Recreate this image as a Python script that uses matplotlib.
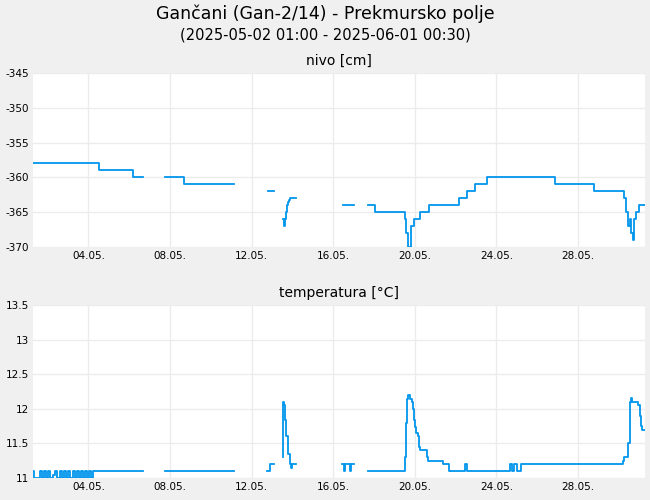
import numpy as np
import matplotlib.pyplot as plt
from matplotlib.ticker import FormatStrFormatter

nan = np.nan

# x = days since left edge of the plot
tick_days = [2.72, 6.72, 10.72, 14.72, 18.72, 22.72, 26.72]
tick_labels = ["04.05.", "08.05.", "12.05.", "16.05.", "20.05.", "24.05.", "28.05."]

nivo_t = [0, 3.20, 3.25, 4.83, 4.88, 5.37, 5.40,
          6.48, 7.37, 7.42, 9.83, 9.86,
          11.51, 11.79, 11.82,
          12.25, 12.30, 12.35, 12.40, 12.45, 12.50, 12.55, 12.58, 12.87, 12.90,
          15.20, 15.70, 15.73,
          16.44, 16.67, 16.75, 18.18, 18.22, 18.27, 18.37, 18.49, 18.55, 18.69, 18.98,
          19.43, 20.90, 21.29, 21.68, 22.26, 25.59, 27.53, 28.89, 29.00, 29.10, 29.20,
          29.25, 29.30, 29.40, 29.45, 29.55, 29.70, 30.0]
nivo_v = [-358, -358, -359, -359, -360, -360, nan,
          -360, -360, -361, -361, nan,
          -362, -362, nan,
          -366, -367, -366, -365, -364, -363.5, -363.2, -363, -363, nan,
          -364, -364, nan,
          -364, -364, -365, -365, -366, -368, -370, -370, -367, -366, -365,
          -364, -363, -362, -361, -360, -361, -362, -362, -363, -365, -367,
          -366, -368, -369, -366, -365, -364, -364]

temp_t = [0, 0.05, 0.35, 0.45, 0.55, 0.65, 0.75, 0.85, 1.0, 1.1, 1.2, 1.3, 1.4,
          1.5, 1.6, 1.7, 1.8, 1.95, 2.05, 2.15, 2.25, 2.35, 2.45, 2.55, 2.65, 2.75,
          2.85, 2.92, 5.37, 5.40,
          6.48, 9.83, 9.86,
          11.47, 11.60, 11.79, 11.82,
          12.25, 12.28, 12.32, 12.36, 12.42, 12.48, 12.52, 12.58, 12.62, 12.67, 12.72, 12.87, 12.90,
          15.17, 15.25, 15.30, 15.55, 15.60, 15.70, 15.73,
          16.44, 18.18, 18.22, 18.28, 18.33, 18.38, 18.45, 18.50, 18.56, 18.62, 18.68,
          18.74, 18.80, 18.86, 18.92, 18.98, 19.30, 19.36, 20.10, 20.39, 20.45,
          20.50, 21.17, 21.30, 21.55, 23.39, 23.50, 23.60, 23.75, 23.92, 28.92, 29.00,
          29.20, 29.25, 29.30, 29.38, 29.69, 29.75, 29.82, 29.88, 30.0]
temp_v = [11.1, 11.0, 11.1, 11.0, 11.1, 11.0, 11.1, 11.0, 11.05, 11.1, 11.0, 11.1, 11.0,
          11.1, 11.0, 11.1, 11.0, 11.1, 11.0, 11.1, 11.0, 11.1, 11.0, 11.1, 11.0, 11.1,
          11.0, 11.1, 11.1, nan,
          11.1, 11.1, nan,
          11.1, 11.2, 11.2, nan,
          11.3, 12.1, 12.05, 11.84, 11.6, 11.45, 11.35, 11.25, 11.2, 11.15, 11.2, 11.2, nan,
          11.2, 11.1, 11.2, 11.1, 11.2, 11.2, nan,
          11.1, 11.1, 11.3, 11.8, 12.14, 12.2, 12.2, 12.14, 12.1, 12.0, 11.84,
          11.74, 11.65, 11.6, 11.45, 11.4, 11.3, 11.25, 11.2, 11.1, nan,
          11.1, 11.2, 11.1, 11.1, 11.2, 11.1, 11.2, 11.1, 11.2, 11.25, 11.3,
          11.5, 12.1, 12.15, 12.1, 12.05, 11.9, 11.75, 11.7, 11.7]

color = "#0095ec"

fig = plt.figure(figsize=(6.5, 5), dpi=100, facecolor="#f0f0f0")
fig.text(0.5, 0.972, "Gančani (Gan-2/14) - Prekmursko polje", ha="center", va="center", fontsize=12.5)
fig.text(0.5, 0.930, "(2025-05-02 01:00 - 2025-06-01 00:30)", ha="center", va="center", fontsize=10.5)

panels = [
    ([0.0508, 0.506, 0.9412, 0.348], nivo_t, nivo_v, "nivo [cm]", (-370, -345), np.arange(-370, -344, 5), "%d"),
    ([0.0508, 0.044, 0.9412, 0.346], temp_t, temp_v, "temperatura [°C]", (11, 13.5), np.arange(11, 13.51, 0.5), "%g"),
]
for rect, t, v, title, ylim, yticks, fmt in panels:
    ax = fig.add_axes(rect)
    ax.plot(t, v, drawstyle="steps-post", color=color, lw=1.3)
    ax.set_xlim(0, 30)
    ax.set_ylim(*ylim)
    ax.set_yticks(yticks)
    ax.yaxis.set_major_formatter(FormatStrFormatter(fmt))
    ax.set_xticks(tick_days)
    ax.set_xticklabels(tick_labels)
    ax.tick_params(labelsize=7.5, length=0, pad=3)
    ax.grid(True, color="#ececec", lw=1)
    ax.set_axisbelow(True)
    for s in ax.spines.values():
        s.set_visible(False)
    ax.set_title(title, fontsize=10, pad=6)

fig.savefig("out.png", dpi=100, facecolor=fig.get_facecolor())
